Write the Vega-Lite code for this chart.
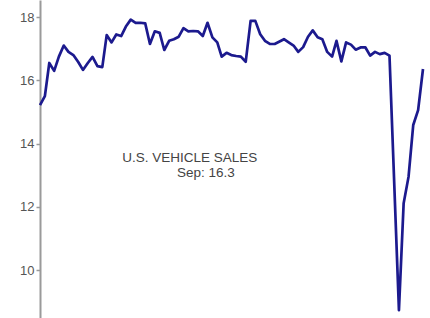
{
  "$schema": "https://vega.github.io/schema/vega-lite/v6.json",
  "width": 383,
  "height": 318,
  "autosize": {"type": "none"},
  "padding": {"left": 40, "top": 0, "right": 7, "bottom": 0},
  "background": "white",
  "config": {"view": {"stroke": null}, "font": "Liberation Sans"},
  "datasets": {
    "sales": [
      {"month": "2014-01", "saar": 15.22}, {"month": "2014-02", "saar": 15.5}, {"month": "2014-03", "saar": 16.55},
      {"month": "2014-04", "saar": 16.3}, {"month": "2014-05", "saar": 16.75}, {"month": "2014-06", "saar": 17.1},
      {"month": "2014-07", "saar": 16.9}, {"month": "2014-08", "saar": 16.8}, {"month": "2014-09", "saar": 16.58},
      {"month": "2014-10", "saar": 16.33}, {"month": "2014-11", "saar": 16.55}, {"month": "2014-12", "saar": 16.74},
      {"month": "2015-01", "saar": 16.45}, {"month": "2015-02", "saar": 16.42}, {"month": "2015-03", "saar": 17.43},
      {"month": "2015-04", "saar": 17.2}, {"month": "2015-05", "saar": 17.45}, {"month": "2015-06", "saar": 17.4},
      {"month": "2015-07", "saar": 17.7}, {"month": "2015-08", "saar": 17.92}, {"month": "2015-09", "saar": 17.82},
      {"month": "2015-10", "saar": 17.82}, {"month": "2015-11", "saar": 17.8}, {"month": "2015-12", "saar": 17.15},
      {"month": "2016-01", "saar": 17.55}, {"month": "2016-02", "saar": 17.5}, {"month": "2016-03", "saar": 16.96},
      {"month": "2016-04", "saar": 17.25}, {"month": "2016-05", "saar": 17.3}, {"month": "2016-06", "saar": 17.38},
      {"month": "2016-07", "saar": 17.65}, {"month": "2016-08", "saar": 17.55}, {"month": "2016-09", "saar": 17.56},
      {"month": "2016-10", "saar": 17.55}, {"month": "2016-11", "saar": 17.4}, {"month": "2016-12", "saar": 17.82},
      {"month": "2017-01", "saar": 17.36}, {"month": "2017-02", "saar": 17.2}, {"month": "2017-03", "saar": 16.75},
      {"month": "2017-04", "saar": 16.87}, {"month": "2017-05", "saar": 16.8}, {"month": "2017-06", "saar": 16.77},
      {"month": "2017-07", "saar": 16.75}, {"month": "2017-08", "saar": 16.59}, {"month": "2017-09", "saar": 17.88},
      {"month": "2017-10", "saar": 17.88}, {"month": "2017-11", "saar": 17.46}, {"month": "2017-12", "saar": 17.25},
      {"month": "2018-01", "saar": 17.15}, {"month": "2018-02", "saar": 17.15}, {"month": "2018-03", "saar": 17.22},
      {"month": "2018-04", "saar": 17.3}, {"month": "2018-05", "saar": 17.2}, {"month": "2018-06", "saar": 17.1},
      {"month": "2018-07", "saar": 16.9}, {"month": "2018-08", "saar": 17.05}, {"month": "2018-09", "saar": 17.38},
      {"month": "2018-10", "saar": 17.58}, {"month": "2018-11", "saar": 17.36}, {"month": "2018-12", "saar": 17.3},
      {"month": "2019-01", "saar": 16.9}, {"month": "2019-02", "saar": 16.75}, {"month": "2019-03", "saar": 17.25},
      {"month": "2019-04", "saar": 16.6}, {"month": "2019-05", "saar": 17.2}, {"month": "2019-06", "saar": 17.13},
      {"month": "2019-07", "saar": 16.97}, {"month": "2019-08", "saar": 17.04}, {"month": "2019-09", "saar": 17.04},
      {"month": "2019-10", "saar": 16.78}, {"month": "2019-11", "saar": 16.9}, {"month": "2019-12", "saar": 16.83},
      {"month": "2020-01", "saar": 16.87}, {"month": "2020-02", "saar": 16.78},
      {"month": "2020-04", "saar": 8.74}, {"month": "2020-05", "saar": 12.12}, {"month": "2020-06", "saar": 12.95},
      {"month": "2020-07", "saar": 14.59}, {"month": "2020-08", "saar": 15.06}, {"month": "2020-09", "saar": 16.36}
    ],
    "notes": [
      {"month": "2016-08-10", "saar": 13.56, "label": "U.S. VEHICLE SALES"},
      {"month": "2016-11-20", "saar": 13.08, "label": "Sep: 16.3"}
    ]
  },
  "layer": [
    {
      "data": {"name": "sales"},
      "mark": {"type": "line", "color": "#1c1a8e", "strokeWidth": 2.7, "strokeJoin": "round"},
      "encoding": {
        "x": {"field": "month", "type": "temporal", "axis": null,
              "scale": {"domain": [{"year": 2014, "month": 1, "date": 1}, {"year": 2020, "month": 9, "date": 1}]}},
        "y": {"field": "saar", "type": "quantitative",
              "scale": {"domain": [8.49, 18.54], "nice": false, "zero": false},
              "axis": {"values": [10, 12, 14, 16, 18], "title": null, "grid": false,
                       "domainColor": "#9a9a9a", "domainWidth": 2, "tickColor": "#9a9a9a", "tickWidth": 1.5,
                       "tickSize": 4, "labelColor": "#555555", "labelFontSize": 13, "labelPadding": 2,
                       "labelFont": "Liberation Sans"}}
      }
    },
    {
      "data": {"name": "notes"},
      "mark": {"type": "text", "align": "center", "baseline": "middle", "fontSize": 13.5, "color": "#444444", "font": "Liberation Sans"},
      "encoding": {
        "x": {"field": "month", "type": "temporal"},
        "y": {"field": "saar", "type": "quantitative"},
        "text": {"field": "label"}
      }
    }
  ]
}
